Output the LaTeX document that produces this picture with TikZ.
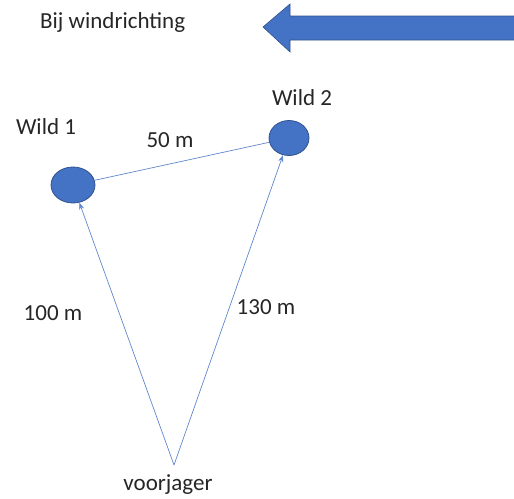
\documentclass[tikz,border=0pt]{standalone}
\usepackage{fontspec}
\setmainfont{Carlito}
\usetikzlibrary{arrows.meta,shapes.geometric}
\definecolor{obj}{HTML}{4472C4}
\definecolor{objedge}{HTML}{2F528F}
\tikzset{
  wild/.style={ellipse, draw=objedge, fill=obj, line width=0.8pt},
  lbl/.style={font=\fontsize{23}{26}\selectfont, text=black!85, inner sep=0pt},
  conn/.style={draw=obj!85, line width=0.7pt},
  arr/.style={conn, -{Stealth[length=7pt,width=5pt]}}
}
\begin{document}
\begin{tikzpicture}[x=1pt,y=-1pt]
\useasboundingbox (0,0) rectangle (514,498);
% wind arrow
\path[fill=obj, draw=objedge, line width=0.6pt] (263,27) -- (290,4) -- (290,16) -- (516,16) -- (516,40) -- (290,40) -- (290,52) -- cycle;
\node[lbl, anchor=west] (wind) at (40,22) {Bij windrichting};
\node[wild, minimum width=44pt, minimum height=36pt, inner sep=0pt] (w1) at (73,185) {};
\node[wild, minimum width=40pt, minimum height=35pt, inner sep=0pt] (w2) at (289,138) {};
\node[lbl] (l1) at (46,127) {Wild 1};
\node[lbl] (l2) at (302,98) {Wild 2};
\node[lbl] (d50) at (170,140) {50 m};
\node[lbl] (d100) at (53,313) {100 m};
\node[lbl] (d130) at (266,307) {130 m};
\coordinate (vj) at (174,465);
\node[lbl] (voor) at (168,485) {voorjager};
\draw[conn] (w1) -- (w2);
\draw[arr] (vj) -- (w1);
\draw[arr] (vj) -- (w2);
\end{tikzpicture}
\end{document}
